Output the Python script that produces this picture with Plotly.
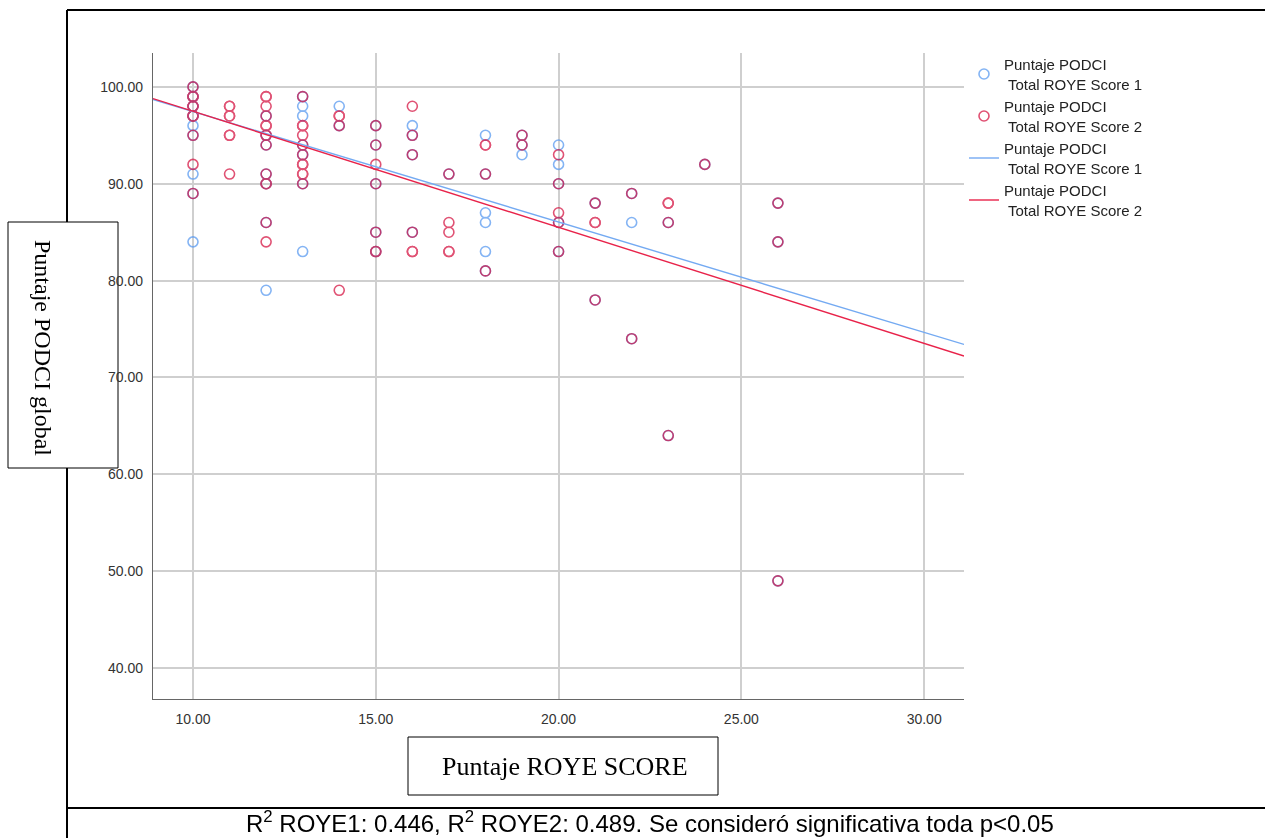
import plotly.graph_objects as go
import numpy as np

# ---------------- data ----------------
roye1_x = [10, 10, 10, 10, 10, 10, 10, 10, 10,
           12, 12, 12, 12, 12, 12, 12,
           13, 13, 13, 13, 13, 13, 13,
           14, 14,
           15, 15, 15, 15, 15,
           16, 16, 16, 16,
           17,
           18, 18, 18, 18, 18, 18,
           19, 19, 19,
           20, 20, 20, 20, 20,
           21, 21,
           22, 22, 22,
           23, 23,
           24,
           26, 26, 26]
roye1_y = [100, 99, 98, 97, 96, 95, 91, 89, 84,
           97, 95, 94, 91, 90, 86, 79,
           99, 98, 97, 94, 93, 90, 83,
           98, 96,
           96, 94, 90, 85, 83,
           96, 95, 93, 85,
           91,
           95, 91, 87, 86, 83, 81,
           95, 94, 93,
           94, 92, 90, 86, 83,
           88, 78,
           89, 86, 74,
           86, 64,
           92,
           88, 84, 49]

roye2_x = [10, 10, 10, 10, 10, 10, 10, 10, 10, 10, 10, 10, 10,
           11, 11, 11, 11, 11, 11, 11,
           12, 12, 12, 12, 12, 12, 12, 12, 12, 12, 12, 12, 12, 12,
           13, 13, 13, 13, 13, 13, 13, 13, 13, 13, 13,
           14, 14, 14, 14,
           15, 15, 15, 15, 15, 15, 15,
           16, 16, 16, 16, 16, 16,
           17, 17, 17, 17, 17,
           18, 18, 18, 18,
           19, 19,
           20, 20, 20, 20, 20,
           21, 21, 21, 21,
           22, 22,
           23, 23, 23, 23,
           24,
           26, 26, 26]
roye2_y = [100, 99, 99, 99, 98, 98, 98, 97, 97, 97, 95, 92, 89,
           98, 98, 97, 97, 95, 95, 91,
           99, 99, 98, 97, 96, 96, 95, 95, 94, 91, 90, 90, 86, 84,
           99, 96, 96, 95, 94, 93, 92, 92, 91, 91, 90,
           97, 97, 96, 79,
           96, 94, 92, 90, 85, 83, 83,
           98, 95, 93, 85, 83, 83,
           91, 86, 85, 83, 83,
           94, 94, 91, 81,
           95, 94,
           93, 90, 87, 86, 83,
           88, 86, 86, 78,
           89, 74,
           88, 88, 86, 64,
           92,
           88, 84, 49]

series_names = ["Puntaje PODCI<br> Total ROYE Score 1",
                "Puntaje PODCI<br> Total ROYE Score 2"]
fit_intercepts = [108.85, 109.46]
fit_slopes = [-1.140, -1.198]

x_ticks = [10, 15, 20, 25, 30]
y_ticks = [40, 50, 60, 70, 80, 90, 100]

x_title = "Puntaje ROYE SCORE"
y_title = "Puntaje PODCI global"
caption = "R<sup>2</sup> ROYE1: 0.446, R<sup>2</sup> ROYE2: 0.489. Se consideró significativa toda p<0.05"

# ---------------- style ----------------
W, H = 1265, 838
L, R, T, B = 153, 964, 53, 699
XR = [8.906, 31.09]
YR = [36.8, 103.5]
blue_m = "#5b9bf0"
red_m = "#d40f3e"
blue_l = "#74aaf2"
red_l = "#e8234a"

fig = go.Figure()
fig.add_trace(go.Scatter(x=roye1_x, y=roye1_y, mode="markers", name=series_names[0],
                         marker=dict(symbol="circle-open", size=10, color=blue_m,
                                     line=dict(width=1.6, color=blue_m)),
                         opacity=0.75))
fig.add_trace(go.Scatter(x=roye2_x, y=roye2_y, mode="markers", name=series_names[1],
                         marker=dict(symbol="circle-open", size=10, color=red_m,
                                     line=dict(width=1.6, color=red_m)),
                         opacity=0.72))
xx = np.array(XR)
for i, col in enumerate([blue_l, red_l]):
    fig.add_trace(go.Scatter(x=xx, y=fit_intercepts[i] + fit_slopes[i] * xx, mode="lines",
                             name=series_names[i], line=dict(color=col, width=1.4)))


def px_x(p):
    return (p - L) / (R - L)


def px_y(p):
    return (B - p) / (B - T)


shapes = []
# outer frame lines
for (x0, y0, x1, y1) in [(67, 10, 1270, 10), (67, 10, 67, 840), (67, 808, 1270, 808)]:
    shapes.append(dict(type="line", xref="paper", yref="paper", layer="below",
                       x0=px_x(x0), y0=px_y(y0), x1=px_x(x1), y1=px_y(y1),
                       line=dict(color="black", width=2)))
# label boxes
for (x0, y0, x1, y1) in [(8, 222, 118, 468), (408, 737, 718, 795)]:
    shapes.append(dict(type="rect", xref="paper", yref="paper", layer="below",
                       x0=px_x(x0), y0=px_y(y0), x1=px_x(x1), y1=px_y(y1),
                       fillcolor="white", line=dict(color="black", width=1)))

annotations = [
    dict(text=y_title, xref="paper", yref="paper", x=px_x(43), y=px_y(348),
         showarrow=False, textangle=90, xanchor="center", yanchor="middle",
         font=dict(family="Liberation Serif", size=24, color="black")),
    dict(text=x_title, xref="paper", yref="paper", x=px_x(565), y=px_y(766),
         showarrow=False, xanchor="center", yanchor="middle",
         font=dict(family="Liberation Serif", size=26, color="black")),
    dict(text=caption, xref="paper", yref="paper", x=px_x(650), y=px_y(822),
         showarrow=False, xanchor="center", yanchor="middle",
         font=dict(family="Liberation Sans", size=24, color="black")),
]

fig.update_layout(
    width=W, height=H,
    margin=dict(l=L, r=W - R, t=T, b=H - B, pad=0),
    paper_bgcolor="white", plot_bgcolor="white",
    showlegend=True,
    legend=dict(x=px_x(964), y=px_y(48), xanchor="left", yanchor="top",
                font=dict(family="Liberation Sans", size=15, color="#222"),
                tracegroupgap=0, bgcolor="rgba(0,0,0,0)"),
    shapes=shapes, annotations=annotations,
    xaxis=dict(range=XR, tickvals=x_ticks, ticktext=[f"{v:.2f}" for v in x_ticks],
               showgrid=True, gridcolor="#cfcfcf", gridwidth=1.5, zeroline=False,
               showline=True, linecolor="#666", linewidth=1.2, ticks="",
               ticklabelstandoff=7,
               tickfont=dict(family="Liberation Sans", size=14, color="#333")),
    yaxis=dict(range=YR, tickvals=y_ticks, ticktext=[f"{v:.2f}" for v in y_ticks],
               showgrid=True, gridcolor="#cfcfcf", gridwidth=1.5, zeroline=False,
               showline=True, linecolor="#666", linewidth=1.2, ticks="",
               ticklabelstandoff=6,
               tickfont=dict(family="Liberation Sans", size=14, color="#333")),
)

fig.write_html("out.html", config={"displayModeBar": False},
               post_script="document.body.style.margin='0px';document.body.style.overflow='hidden';")
